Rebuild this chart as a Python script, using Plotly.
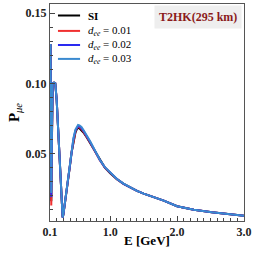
import plotly.graph_objects as go

E = [0.100, 0.1075, 0.113, 0.119, 0.126, 0.140, 0.160, 0.179, 0.200, 0.219,
     0.240, 0.264, 0.275, 0.284, 0.289, 0.300, 0.320, 0.350, 0.380, 0.400,
     0.420, 0.450, 0.480, 0.500, 0.520, 0.540, 0.570, 0.600, 0.650, 0.700,
     0.770, 0.845, 0.920, 1.000, 1.100, 1.200, 1.300, 1.400, 1.500, 1.650,
     1.800, 2.000, 2.250, 2.520, 2.750, 3.000]

P_SI = [0.090, 0.128, 0.070, 0.016, 0.050, 0.100, 0.1005, 0.100, 0.088, 0.070,
        0.052, 0.035, 0.022, 0.010, 0.0045, 0.0065, 0.0130, 0.0250, 0.0350, 0.0420,
        0.0500, 0.0590, 0.0650, 0.0672, 0.0683, 0.0680, 0.0668, 0.0650, 0.0615, 0.0575,
        0.0515, 0.0450, 0.0400, 0.0360, 0.0318, 0.0285, 0.0258, 0.0235, 0.0215, 0.0190,
        0.0165, 0.0125, 0.0100, 0.0082, 0.0069, 0.0058]

P_d01 = [0.090, 0.128, 0.068, 0.013, 0.048, 0.100, 0.1005, 0.100, 0.088, 0.070,
         0.052, 0.035, 0.022, 0.010, 0.0045, 0.0066, 0.0132, 0.0253, 0.0354, 0.0424,
         0.0505, 0.0596, 0.0657, 0.0679, 0.0690, 0.0687, 0.0675, 0.0656, 0.0620, 0.0579,
         0.0518, 0.0452, 0.0401, 0.0361, 0.0318, 0.0285, 0.0258, 0.0235, 0.0215, 0.0190,
         0.0165, 0.0125, 0.0100, 0.0082, 0.0069, 0.0058]

P_d02 = [0.090, 0.128, 0.072, 0.019, 0.052, 0.100, 0.1005, 0.100, 0.088, 0.070,
         0.052, 0.035, 0.022, 0.010, 0.0045, 0.0067, 0.0135, 0.0256, 0.0358, 0.0428,
         0.0510, 0.0602, 0.0664, 0.0686, 0.0697, 0.0694, 0.0682, 0.0662, 0.0625, 0.0583,
         0.0521, 0.0454, 0.0402, 0.0362, 0.0319, 0.0285, 0.0258, 0.0235, 0.0215, 0.0190,
         0.0165, 0.0125, 0.0100, 0.0082, 0.0069, 0.0058]

P_d03 = [0.090, 0.128, 0.074, 0.022, 0.054, 0.100, 0.1005, 0.100, 0.088, 0.070,
         0.052, 0.035, 0.022, 0.010, 0.0045, 0.0068, 0.0138, 0.0259, 0.0362, 0.0432,
         0.0515, 0.0608, 0.0671, 0.0693, 0.0704, 0.0701, 0.0689, 0.0668, 0.0630, 0.0587,
         0.0524, 0.0456, 0.0403, 0.0363, 0.0319, 0.0286, 0.0258, 0.0235, 0.0215, 0.0190,
         0.0165, 0.0125, 0.0100, 0.0082, 0.0069, 0.0058]

names = ["<b>SI</b>", "<i>d</i><sub><i>ee</i></sub> = 0.01",
         "<i>d</i><sub><i>ee</i></sub> = 0.02", "<i>d</i><sub><i>ee</i></sub> = 0.03"]
series = [P_SI, P_d01, P_d02, P_d03]
colors = ["#000000", "#f03030", "#2a2af0", "#3a8ad0"]

x_ticks = [0.1, 1.0, 2.0, 3.0]
x_labels = ["<b>0.1</b>", "<b>1.0</b>", "<b>2.0</b>", "<b>3.0</b>"]
y_ticks = [0.05, 0.10, 0.15]
y_labels = ["<b>0.05</b>", "<b>0.10</b>", "<b>0.15</b>"]

serif = "Liberation Serif"

fig = go.Figure()
for n, s, c in zip(names, series, colors):
    fig.add_trace(go.Scatter(x=E, y=s, mode="lines", name=n, showlegend=False,
                             line=dict(color=c, width=2)))

# compact legend drawn in paper coordinates
leg_y = [0.947, 0.876, 0.811, 0.747]
for n, c, ly in zip(names, colors, leg_y):
    fig.add_shape(type="line", xref="paper", yref="paper", x0=0.041, x1=0.155, y0=ly, y1=ly,
                  line=dict(color=c, width=2))
    fig.add_annotation(xref="paper", yref="paper", x=0.185, y=ly, xanchor="left", yanchor="middle",
                       text=n, showarrow=False, font=dict(family=serif, size=11, color="black"))

fig.update_layout(
    width=258, height=258,
    margin=dict(l=50, r=14, t=4, b=37),
    plot_bgcolor="white", paper_bgcolor="white",
    showlegend=False,
    font=dict(family=serif, color="black"),
)

fig.update_xaxes(range=[0.1, 3.0], tickmode="array", tickvals=x_ticks, ticktext=x_labels,
                 ticks="inside", ticklen=5, tickcolor="#444", automargin=False,
                 minor=dict(dtick=0.1, tick0=0.1, ticks="inside", ticklen=3, tickcolor="#444"),
                 showline=True, linecolor="#555", linewidth=1, mirror=True,
                 showgrid=False, zeroline=False,
                 tickfont=dict(family=serif, size=12, color="#222"))
fig.update_yaxes(range=[0.002, 0.1565], tickmode="array", tickvals=y_ticks, ticktext=y_labels,
                 ticks="inside", ticklen=5, tickcolor="#444", automargin=False,
                 minor=dict(dtick=0.01, tick0=0.0, ticks="inside", ticklen=3, tickcolor="#444"),
                 showline=True, linecolor="#555", linewidth=1, mirror=True,
                 showgrid=False, zeroline=False,
                 tickfont=dict(family=serif, size=12, color="#222"),
                 title=dict(text="<b>P</b><sub><i>μe</i></sub>", font=dict(family=serif, size=15), standoff=2))

fig.add_annotation(xref="paper", yref="paper", x=0.5, y=-0.088, xanchor="center", yanchor="middle",
                   text="<b>E [GeV]</b>", showarrow=False, font=dict(family=serif, size=13, color="black"))

fig.add_annotation(xref="paper", yref="paper", x=0.99, y=0.995, xanchor="right", yanchor="top",
                   text="<b>T2HK(295 km)</b>", showarrow=False,
                   font=dict(family=serif, size=12, color="#8b1a1a"),
                   bgcolor="#eeeeee", borderpad=4)

fig.write_html("out.html", config={"displayModeBar": False},
               post_script="document.body.style.margin='0';document.body.style.overflow='hidden';")
